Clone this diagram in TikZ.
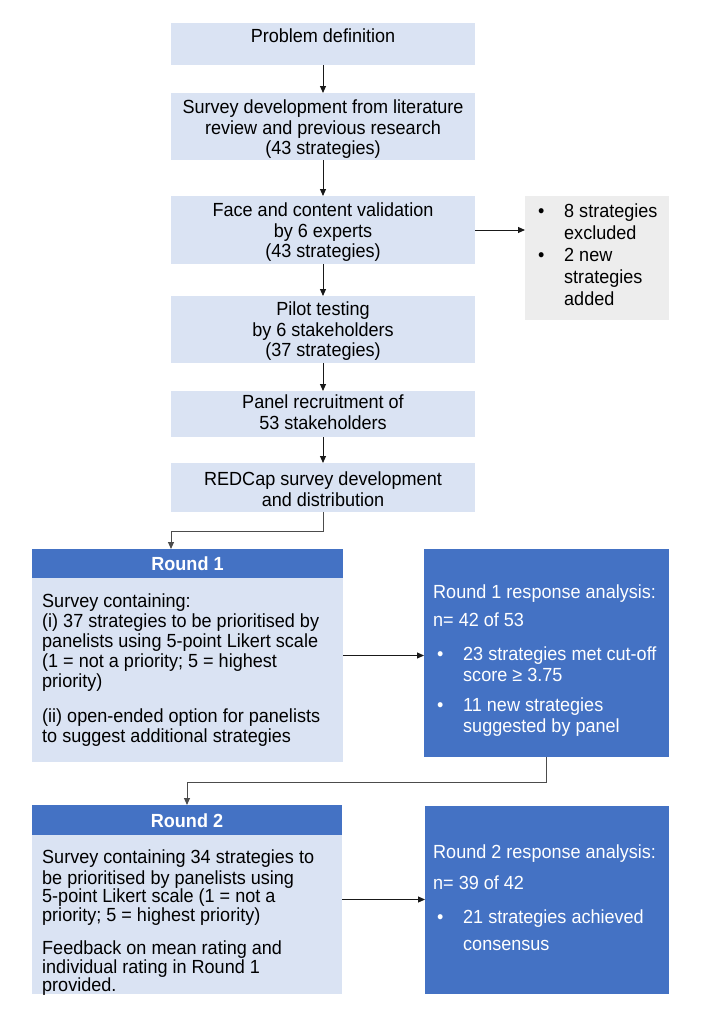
\documentclass[tikz,border=0pt]{standalone}
\usepackage{fontspec}
\setmainfont{Liberation Sans}[FakeStretch=0.95]
\usetikzlibrary{arrows.meta,calc}
\definecolor{lb}{HTML}{DAE3F3}
\definecolor{hb}{HTML}{4472C4}
\definecolor{gb}{HTML}{EDEDED}
\newcommand\fA{\fontsize{19}{19.5}\selectfont}
\newcommand\fB{\fontsize{19}{20}\selectfont}
\newcommand\fC{\fontsize{19}{18.5}\selectfont}
\newcommand\fG{\fontsize{19}{22}\selectfont}
\newcommand\fR{\fontsize{19}{21}\selectfont}
\newcommand\fS{\fontsize{19}{27}\selectfont}
\begin{document}
\begin{tikzpicture}[x=1pt,y=-1pt,
  lbox/.style={fill=lb, draw=none, inner sep=0pt, outer sep=0pt},
  hbox/.style={fill=hb, draw=none, inner sep=0pt, outer sep=0pt},
  gbox/.style={fill=gb, draw=none, inner sep=0pt, outer sep=0pt},
  ctext/.style={inner sep=0pt, align=center, text=black, anchor=north},
  ltext/.style={inner sep=0pt, align=left, text=black, anchor=north west},
  wtext/.style={inner sep=0pt, align=left, text=white, anchor=north west},
  arr/.style={draw=black!90, line width=1pt, -{Triangle[length=7pt,width=6pt]}},
  earr/.style={draw=black!70, line width=1pt, -{Triangle[length=7pt,width=6pt]}}]
\useasboundingbox (0,0) rectangle (703,1015);

% top chain
\node[lbox, minimum width=304pt, minimum height=42pt] (pd) at (323,44) {};
\node[ctext, font=\fA] (tpd) at (323,29) {\strut Problem definition};
\node[lbox, minimum width=304pt, minimum height=67pt] (sd) at (323,126.5) {};
\node[ctext, font=\fA] (tsd) at (323,100) {\strut Survey development from literature\\review and previous research\\(43 strategies)};
\node[lbox, minimum width=304pt, minimum height=68pt] (fc) at (323,230) {};
\node[ctext, font=\fA] (tfc) at (323,203) {\strut Face and content validation\\by 6 experts\\(43 strategies)};
\node[lbox, minimum width=304pt, minimum height=67pt] (pt) at (323,329.5) {};
\node[ctext, font=\fA] (tpt) at (323,302) {\strut Pilot testing\\by 6 stakeholders\\(37 strategies)};
\node[lbox, minimum width=304pt, minimum height=46pt] (pr) at (323,414) {};
\node[ctext, font=\fA] (tpr) at (323,395) {\strut Panel recruitment of\\53 stakeholders};
\node[lbox, minimum width=304pt, minimum height=49pt] (rc) at (323,487.5) {};
\node[ctext, font=\fA] (trc) at (323,472) {\strut REDCap survey development\\and distribution};

% grey side box
\node[gbox, minimum width=144pt, minimum height=124pt] (gx) at (597,258) {};
\node[ltext, font=\fG] (gb1) at (538,201.6) {\strut •};
\node[ltext, font=\fG] (gt1) at (564,201.6) {\strut 8 strategies\\excluded};
\node[ltext, font=\fG] (gb2) at (538,245.6) {\strut •};
\node[ltext, font=\fG] (gt2) at (564,245.6) {\strut 2 new\\strategies\\added};

% Round 1
\node[lbox, minimum width=311pt, minimum height=213pt] (r1) at (187.5,655.5) {};
\node[hbox, minimum width=311pt, minimum height=29pt] (r1h) at (187.5,563.5) {};
\node[inner sep=0pt, text=white, font=\fB\bfseries] (tr1h) at (187.5,564) {Round 1};
\node[ltext, font=\fB] (tr1) at (42,593) {\strut Survey containing:\\(i) 37 strategies to be prioritised by\\panelists using 5-point Likert scale\\(1 = not a priority; 5 = highest\\priority)\\[15pt](ii) open-ended option for panelists\\to suggest additional strategies};

\node[hbox, minimum width=245pt, minimum height=208pt] (rr1) at (546.5,653) {};
\node[wtext, font=\fB] (rr1a) at (433,584) {\strut Round 1 response analysis:};
\node[wtext, font=\fB] (rr1b) at (433,612) {\strut n= 42 of 53};
\node[wtext, font=\fR] (rr1c) at (437,645.3) {\strut •};
\node[wtext, font=\fR] (rr1d) at (463,645.3) {\strut 23 strategies met cut-off\\score ≥ 3.75};
\node[wtext, font=\fR] (rr1e) at (437,696.3) {\strut •};
\node[wtext, font=\fR] (rr1f) at (463,696.3) {\strut 11 new strategies\\suggested by panel};

% Round 2
\node[lbox, minimum width=310pt, minimum height=189pt] (r2) at (187,899.5) {};
\node[hbox, minimum width=310pt, minimum height=30pt] (r2h) at (187,820) {};
\node[inner sep=0pt, text=white, font=\fB\bfseries] (tr2h) at (187,820.5) {Round 2};
\node[ltext, font=\fC] (tr2) at (42,850) {\strut Survey containing 34 strategies to\\be prioritised by panelists using\\5-point Likert scale (1 = not a\\priority; 5 = highest priority)\\[15pt]Feedback on mean rating and\\individual rating in Round 1\\provided.};

\node[hbox, minimum width=244pt, minimum height=188pt] (rr2) at (547,900) {};
\node[wtext, font=\fB] (rr2a) at (433,844) {\strut Round 2 response analysis:};
\node[wtext, font=\fB] (rr2b) at (433,875) {\strut n= 39 of 42};
\node[wtext, font=\fS] (rr2c) at (437,904.1) {\strut •};
\node[wtext, font=\fS] (rr2d) at (463,904.1) {\strut 21 strategies achieved\\consensus};

% connectors
\draw[arr] (pd.south) -- (sd.north);
\draw[arr] (sd.south) -- (fc.north);
\draw[arr] (fc.south) -- (pt.north);
\draw[arr] (pt.south) -- (pr.north);
\draw[arr] (pr.south) -- (rc.north);
\draw[arr] (fc.east) -- (gx.west |- fc.east);
\coordinate (k1) at (171,531);
\draw[earr] (rc.south) |- (k1) -- (k1 |- r1h.north);
\draw[arr] (r1.east) -- (rr1.west |- r1.east);
\coordinate (k2) at (187,782);
\draw[earr] (rr1.south) |- (k2) -- (k2 |- r2h.north);
\draw[arr] (r2.east) -- (rr2.west |- r2.east);
\end{tikzpicture}
\end{document}
